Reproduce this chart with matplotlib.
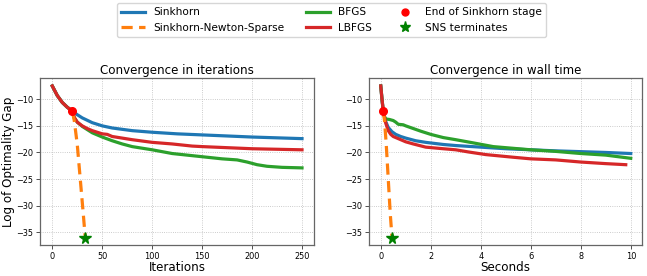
import matplotlib
matplotlib.use("Agg")
import matplotlib.pyplot as plt
from matplotlib.lines import Line2D

# ---- Data: iterations panel ----
it_sink_x = [0, 5, 10, 15, 20, 25, 30, 40, 50, 60, 80, 100, 125, 150, 175, 200, 225, 250]
it_sink_y = [-7.5, -9.3, -10.6, -11.5, -12.2, -12.9, -13.5, -14.4, -15.0, -15.4, -15.9, -16.2, -16.5, -16.7, -16.9, -17.1, -17.25, -17.4]

it_bfgs_x = [0, 5, 10, 15, 20, 22, 25, 30, 35, 40, 50, 60, 70, 80, 100, 120, 130, 150, 170, 185, 195, 205, 215, 230, 250]
it_bfgs_y = [-7.5, -9.3, -10.6, -11.5, -12.2, -13.5, -14.3, -15.1, -15.7, -16.3, -17.1, -17.8, -18.4, -18.9, -19.5, -20.2, -20.4, -20.8, -21.2, -21.4, -21.8, -22.3, -22.6, -22.8, -22.9]

it_lbfgs_x = [0, 5, 10, 15, 20, 22, 25, 30, 35, 40, 50, 55, 60, 70, 80, 100, 120, 140, 150, 175, 200, 225, 250]
it_lbfgs_y = [-7.5, -9.3, -10.6, -11.5, -12.2, -13.4, -14.3, -15.0, -15.5, -15.9, -16.5, -16.6, -17.0, -17.3, -17.6, -18.1, -18.4, -18.8, -18.9, -19.1, -19.3, -19.4, -19.5]

it_sns_x = [20, 22, 25, 28, 31, 33]
it_sns_y = [-12.2, -14.0, -18.5, -25.0, -31.5, -36.0]

# ---- Data: wall-time panel ----
t_sink_x = [0.0, 0.05, 0.1, 0.2, 0.3, 0.45, 0.6, 0.8, 1.0, 1.4, 1.8, 2.5, 3.0, 4.0, 5.0, 6.0, 7.0, 8.0, 9.0, 10.0]
t_sink_y = [-7.5, -10.0, -12.2, -14.2, -15.3, -16.1, -16.6, -17.0, -17.3, -17.8, -18.1, -18.5, -18.7, -19.0, -19.3, -19.5, -19.7, -19.85, -20.0, -20.2]

t_bfgs_x = [0.0, 0.05, 0.1, 0.15, 0.2, 0.35, 0.5, 0.6, 0.7, 0.9, 1.0, 1.3, 1.6, 2.0, 2.5, 3.0, 3.7, 4.5, 5.0, 6.0, 7.0, 8.0, 9.0, 10.0]
t_bfgs_y = [-7.5, -10.0, -12.2, -13.3, -13.7, -13.8, -14.0, -14.3, -14.7, -14.8, -15.0, -15.5, -16.0, -16.6, -17.2, -17.6, -18.2, -18.9, -19.1, -19.5, -19.8, -20.2, -20.5, -21.1]

t_lbfgs_x = [0.0, 0.05, 0.1, 0.2, 0.3, 0.4, 0.5, 0.7, 1.0, 1.3, 1.8, 2.5, 3.0, 3.5, 4.2, 5.3, 6.0, 7.0, 8.0, 9.0, 9.8]
t_lbfgs_y = [-7.5, -10.0, -12.2, -14.5, -15.9, -16.6, -17.0, -17.4, -18.0, -18.4, -19.0, -19.3, -19.5, -19.9, -20.4, -20.9, -21.2, -21.4, -21.8, -22.1, -22.3]

t_sns_x = [0.1, 0.15, 0.22, 0.3, 0.38, 0.45]
t_sns_y = [-12.2, -14.0, -18.5, -25.0, -31.5, -36.0]

end_sink_it = (20, -12.2)
end_sink_t = (0.1, -12.2)
sns_term_it = (33, -36.0)
sns_term_t = (0.45, -36.0)

x_ticks_it = [0, 50, 100, 150, 200, 250]
x_ticks_t = [0, 2, 4, 6, 8, 10]
y_ticks = [-10, -15, -20, -25, -30, -35]

C_BLUE = "#1f77b4"
C_ORANGE = "#ff7f0e"
C_GREEN = "#2ca02c"
C_RED = "#d62728"

W, H = 647, 276
fig = plt.figure(figsize=(W / 100, H / 100), dpi=100)
ax1 = fig.add_axes([40 / W, (H - 245) / H, 274 / W, 167 / H])
ax2 = fig.add_axes([369 / W, (H - 245) / H, 273 / W, 167 / H])

lw = 2.3
LABEL_FS = 8.6
TICK_FS = 5.9

def draw(ax, sx, sy, bx, by, lx, ly, nx, ny, endp, term):
    ax.plot(sx, sy, color=C_BLUE, lw=lw, zorder=3)
    ax.plot(bx, by, color=C_GREEN, lw=lw, zorder=3)
    ax.plot(lx, ly, color=C_RED, lw=lw, zorder=4)
    ax.plot(nx, ny, color=C_ORANGE, lw=lw, ls=(0, (3.5, 2)), zorder=5)
    ax.plot([endp[0]], [endp[1]], 'o', color='red', ms=5.5, zorder=6)
    ax.plot([term[0]], [term[1]], '*', color='green', ms=8.5, zorder=6)
    ax.grid(True, ls=':', color='#bbbbbb', lw=0.6)
    for s in ax.spines.values():
        s.set_color('#666666')
        s.set_linewidth(0.9)
    ax.set_yticks(y_ticks)
    ax.set_ylim(-37.4, -6.0)
    ax.tick_params(labelsize=TICK_FS, length=3, width=0.6, pad=2, colors='#333333',
                   labelcolor='black')

draw(ax1, it_sink_x, it_sink_y, it_bfgs_x, it_bfgs_y, it_lbfgs_x, it_lbfgs_y,
     it_sns_x, it_sns_y, end_sink_it, sns_term_it)
ax1.set_xticks(x_ticks_it)
ax1.set_xlim(-12.3, 262)
ax1.set_title("Convergence in iterations", fontsize=LABEL_FS, pad=3)
ax1.set_xlabel("Iterations", fontsize=LABEL_FS, labelpad=0)
ax1.set_ylabel("Log of Optimality Gap", fontsize=LABEL_FS)
ax1.yaxis.set_label_coords(-0.092, 0.5)

draw(ax2, t_sink_x, t_sink_y, t_bfgs_x, t_bfgs_y, t_lbfgs_x, t_lbfgs_y,
     t_sns_x, t_sns_y, end_sink_t, sns_term_t)
ax2.set_xticks(x_ticks_t)
ax2.set_xlim(-0.47, 10.45)
ax2.set_title("Convergence in wall time", fontsize=LABEL_FS, pad=3)
ax2.set_xlabel("Seconds", fontsize=LABEL_FS, labelpad=0)

handles = [
    Line2D([], [], color=C_BLUE, lw=lw),
    Line2D([], [], color=C_ORANGE, lw=lw, ls=(0, (3.5, 2))),
    Line2D([], [], color=C_GREEN, lw=lw),
    Line2D([], [], color=C_RED, lw=lw),
    Line2D([], [], marker='o', color='red', ls='none', ms=5),
    Line2D([], [], marker='*', color='green', ls='none', ms=8),
]
labels = ["Sinkhorn", "Sinkhorn-Newton-Sparse", "BFGS", "LBFGS",
          "End of Sinkhorn stage", "SNS terminates"]
fig.legend(handles, labels, ncol=3, loc='upper center', bbox_to_anchor=(331.5 / W, 1 - 3 / H),
           fontsize=7.6, frameon=True, handlelength=2.3, handletextpad=0.75,
           columnspacing=2.0, borderpad=0.4, labelspacing=0.55, borderaxespad=0,
           edgecolor='#cccccc', fancybox=True)

fig.savefig("out.png", dpi=100)
